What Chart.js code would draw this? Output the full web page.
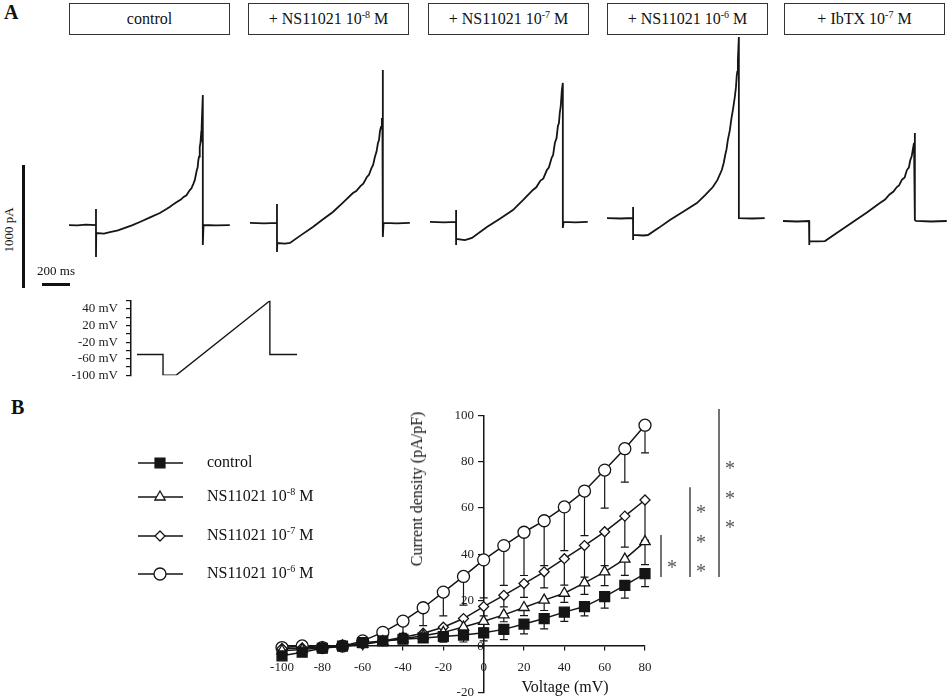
<!DOCTYPE html>
<html>
<head>
<meta charset="utf-8">
<script src="https://cdn.jsdelivr.net/npm/chart.js@4.4.1/dist/chart.umd.min.js"></script>
<style>
    body { margin: 0; background: #fff; width: 948px; height: 697px; position: relative; overflow: hidden;
           font-family: 'Liberation Serif', 'Times New Roman', serif; color: #111; }
    canvas { position: absolute; }
    .txt { position: absolute; white-space: nowrap; }
    .box { position: absolute; top: 3px; height: 32px; box-sizing: border-box; border: 1.5px solid #333;
           text-align: center; line-height: 30px; font-size: 16px; }
    sup { font-size: 10px; vertical-align: 6px; line-height: 0; }
    .bar { position: absolute; background: #111; }
</style>
</head>
<body>
<div class="txt" style="left:4px;top:1px;font-size:20px;font-weight:bold;">A</div>
<div class="txt" style="left:11px;top:396px;font-size:20px;font-weight:bold;">B</div>

<div class="box" style="left:69px;width:161px;">control</div>
<div class="box" style="left:248px;width:161px;">+ NS11021 10<sup>-8</sup> M</div>
<div class="box" style="left:428px;width:161px;">+ NS11021 10<sup>-7</sup> M</div>
<div class="box" style="left:607px;width:161px;">+ NS11021 10<sup>-6</sup> M</div>
<div class="box" style="left:784px;width:161px;">+ IbTX 10<sup>-7</sup> M</div>

<canvas id="trace0" width="165" height="230" style="left:69px;top:36px;"></canvas>
<canvas id="trace1" width="165" height="230" style="left:250px;top:36px;"></canvas>
<canvas id="trace2" width="165" height="230" style="left:430px;top:36px;"></canvas>
<canvas id="trace3" width="165" height="230" style="left:607px;top:36px;"></canvas>
<canvas id="trace4" width="165" height="230" style="left:783px;top:36px;"></canvas>

<div id="vbar" class="bar" style="left:22px;top:165px;width:3px;"></div>
<div id="hbar" class="bar" style="left:42px;top:283px;height:3px;"></div>
<div class="txt" style="left:9px;top:230px;font-size:13px;transform:translate(-50%,-50%) rotate(-90deg);">1000 pA</div>
<div class="txt" style="left:56px;top:271px;font-size:13px;transform:translate(-50%,-50%);">200 ms</div>

<canvas id="protocol" width="300" height="106" style="left:0px;top:285px;"></canvas>

<canvas id="iv" width="630" height="306" style="left:120px;top:400px;"></canvas>
<div class="txt" style="left:207px;top:453px;font-size:16px;">control</div>
<div class="txt" style="left:207px;top:487px;font-size:16px;">NS11021 10<sup>-8</sup> M</div>
<div class="txt" style="left:207px;top:526px;font-size:16px;">NS11021 10<sup>-7</sup> M</div>
<div class="txt" style="left:207px;top:564px;font-size:16px;">NS11021 10<sup>-6</sup> M</div>
<div class="txt" style="left:565px;top:687px;font-size:16px;transform:translate(-50%,-50%);">Voltage (mV)</div>
<div class="txt" style="left:417px;top:489px;font-size:16px;transform:translate(-50%,-50%) rotate(-90deg);">Current density (pA/pF)</div>

<script>
// ---- Panel A: ramp current traces, [time ms, current pA] ----
const traceControl = [[0,33],[60,30],[120,36],[193,33],[193,163],[193,-227],[195,-32],[250,-36],[293,-24],[350,-10],[400,10],[450,30],[507,58],[580,95],[650,131],[700,165],[720,180],[750,205],[771,220],[800,240],[820,262],[840,275],[864,318],[875,330],[890,370],[900,400],[914,480],[920,500],[925,560],[930,590],[935,667],[940,700],[944,760],[947,740],[950,830],[957,1090],[957,-129],[962,33],[1050,30],[1150,33]];
const traceNs8 = [[0,50],[100,46],[193,50],[193,204],[193,-186],[195,-113],[250,-118],[286,-113],[370,-45],[450,17],[520,78],[593,139],[665,215],[736,293],[760,310],[790,350],[810,370],[836,424],[850,440],[870,500],[880,520],[893,586],[905,630],[915,700],[922,720],[930,800],[937,830],[943,903],[947,880],[950,1293],[950,-64],[955,50],[1050,46],[1143,50]];
const traceNs7 = [[0,58],[100,54],[186,58],[186,155],[186,-129],[188,-80],[250,-90],[300,-72],[407,17],[500,85],[593,155],[665,235],[736,318],[760,340],[790,395],[810,410],[836,480],[850,500],[870,580],[880,600],[893,700],[905,740],[915,840],[922,860],[928,944],[935,1000],[943,1131],[950,1188],[950,9],[955,58],[1040,54],[1128,58]];
const traceNs6 = [[0,90],[100,86],[186,90],[186,180],[186,-89],[188,-48],[260,-52],[293,-48],[370,10],[450,74],[550,145],[643,212],[700,275],[757,342],[790,400],[821,480],[835,540],[845,600],[855,650],[864,724],[878,800],[890,900],[902,980],[914,1074],[922,1150],[928,1250],[932,1280],[936,1375],[943,1562],[943,90],[1040,86],[1128,90]];
const traceIbtx = [[0,66],[100,62],[186,66],[186,-129],[190,-97],[250,-100],[300,-97],[400,-20],[500,58],[600,135],[693,212],[730,240],[760,280],[790,305],[814,342],[830,355],[850,400],[870,420],[886,480],[900,500],[910,560],[920,590],[928,643],[937,700],[943,781],[943,74],[950,66],[1060,62],[1171,66]];
const traceTimeMax = 1180;
const traceCurrentMin = -300;
const traceCurrentMax = 1570;

// voltage protocol: time ms vs level on the protocol axis (tick index)
const protocolTicks = ['-100 mV', '', '-60 mV', '', '-20 mV', '', '20 mV', '', '40 mV', ''];
const protocolSteps = [[0,2.5],[186,2.5],[186,0],[279,0],[950,9],[950,2.5],[1144,2.5]];

// ---- Panel B: I-V relation ----
const voltages = [-100,-90,-80,-70,-60,-50,-40,-30,-20,-10,0,10,20,30,40,50,60,70,80];
const controlMean = [-4.2,-2.6,-0.9,0,1.5,2.3,3.0,3.6,4.2,4.8,5.8,7.3,9.6,12,14.8,17.2,21.5,26.4,31.5];
const controlErr  = [0,0,0,0,0,1,1.5,2,2.5,3,3.5,4.5,4.3,4.5,4,4,5,5.5,5.6];
const ns8Mean = [-2,-1.5,-0.7,0,0.8,2,3.2,4.5,6,8.3,10.8,13.6,16.8,20,23,27.5,32.3,37.8,45.4];
const ns8Err  = [0,0,0,0,0,1,1.5,2,2.5,3,3,3,3.5,4.5,4,5,6,7,10];
const ns7Mean = [-1,-0.8,-0.5,0,0.8,2.3,3.9,5.6,8.2,12,17.2,22.1,27.2,32.3,38,43.7,49.7,56.5,63.5];
const ns7Err  = [0,0,0,0,0,1,1.5,2,3,4,4,5,6,7,11.5,13.7,14.7,13.5,17.5];
const ns6Mean = [-0.6,0.1,-0.6,0,2.3,6,10.9,16.7,23.5,30.3,37.5,43.7,49.5,54.5,60.5,67.4,76.5,85.8,96];
const ns6Err  = [0,0,0,0,0,0,5.3,7.8,10.3,12.5,16.5,17.3,18.8,19.5,19,19.4,16.5,14.5,12];

// significance brackets: [from, to] in pA/pF, star levels
const brackets = [
    { from: 30, to: 48.3, stars: [36] },
    { from: 30, to: 69, stars: [59.5, 46.6, 34] },
    { from: 30, to: 103, stars: [78.9, 66, 53.4] }
];

const serif = "'Liberation Serif', 'Times New Roman', serif";
Chart.defaults.font.family = serif;
Chart.defaults.color = '#222';
Chart.defaults.animation = false;

const traceCharts = [traceControl, traceNs8, traceNs7, traceNs6, traceIbtx].map((tr, i) => new Chart(document.getElementById('trace' + i), {
    type: 'line',
    data: {
        datasets: [{
            data: tr.map(p => ({ x: p[0], y: p[1] })),
            borderColor: '#151515',
            borderWidth: 1.8,
            pointRadius: 0,
            tension: 0
        }]
    },
    options: {
        responsive: false,
        layout: { padding: 0 },
        scales: {
            x: { type: 'linear', display: false, min: 0, max: traceTimeMax },
            y: { type: 'linear', display: false, min: traceCurrentMin, max: traceCurrentMax }
        },
        plugins: { legend: { display: false }, tooltip: { enabled: false } }
    }
}));

// scale bars from the trace scales
const ts = traceCharts[0].scales;
document.getElementById('vbar').style.height = Math.round(ts.y.getPixelForValue(0) - ts.y.getPixelForValue(1000)) + 'px';
document.getElementById('hbar').style.width = Math.round(ts.x.getPixelForValue(200) - ts.x.getPixelForValue(0)) + 'px';

new Chart(document.getElementById('protocol'), {
    type: 'line',
    data: {
        datasets: [{
            data: protocolSteps.map(p => ({ x: p[0], y: p[1] })),
            borderColor: '#151515',
            borderWidth: 1.4,
            pointRadius: 0,
            tension: 0
        }]
    },
    options: {
        responsive: false,
        layout: { padding: { top: 0, bottom: 0, right: 3, left: 0 } },
        scales: {
            x: { type: 'linear', display: false, min: -43, max: 1144 },
            y: {
                type: 'linear', min: 0, max: 9,
                afterFit: s => { s.width = 131; },
                ticks: { stepSize: 1, autoSkip: false, padding: 8, font: { size: 13 }, color: '#222',
                         callback: v => protocolTicks[v] },
                grid: { drawOnChartArea: false, tickLength: 5, color: '#151515', lineWidth: 1.2 },
                border: { color: '#151515', width: 1.5 }
            }
        },
        plugins: { legend: { display: false }, tooltip: { enabled: false } }
    }
});

const series = [
    { mean: controlMean, err: controlErr, style: 'rect', radius: 7, fill: '#151515' },
    { mean: ns8Mean, err: ns8Err, style: 'triangle', radius: 6, fill: '#fff' },
    { mean: ns7Mean, err: ns7Err, style: 'rectRot', radius: 5, fill: '#fff' },
    { mean: ns6Mean, err: ns6Err, style: 'circle', radius: 6, fill: '#fff' }
];
const legendRows = [63, 97, 136, 174];

const errorBars = {
    id: 'errorBars',
    beforeDatasetsDraw(chart) {
        const { ctx, scales: { x, y } } = chart;
        ctx.save();
        ctx.strokeStyle = '#151515';
        ctx.lineWidth = 1.2;
        series.forEach(s => {
            s.mean.forEach((m, i) => {
                if (!s.err[i]) return;
                const px = x.getPixelForValue(voltages[i]);
                const y1 = y.getPixelForValue(m);
                const y2 = y.getPixelForValue(m - s.err[i]);
                ctx.beginPath();
                ctx.moveTo(px, y1); ctx.lineTo(px, y2);
                ctx.moveTo(px - 4, y2); ctx.lineTo(px + 4, y2);
                ctx.stroke();
            });
        });
        ctx.restore();
    }
};

const extras = {
    id: 'extras',
    afterDraw(chart) {
        const { ctx, chartArea, scales: { y } } = chart;
        ctx.save();
        // legend
        series.forEach((s, i) => {
            const ly = legendRows[i];
            ctx.strokeStyle = '#151515';
            ctx.lineWidth = 1.4;
            ctx.beginPath(); ctx.moveTo(18, ly); ctx.lineTo(63, ly); ctx.stroke();
            ctx.fillStyle = s.fill;
            ctx.lineWidth = 1.3;
            Chart.helpers.drawPoint(ctx, { pointStyle: s.style, radius: s.radius, rotation: 0, borderWidth: 1.3 }, 40, ly);
        });
        // significance brackets
        ctx.strokeStyle = '#151515';
        ctx.lineWidth = 1.2;
        ctx.fillStyle = '#555';
        ctx.font = '20px ' + serif;
        ctx.textAlign = 'center';
        ctx.textBaseline = 'middle';
        brackets.forEach((b, i) => {
            const bx = chartArea.right + 16 + i * 29;
            ctx.beginPath();
            ctx.moveTo(bx, y.getPixelForValue(b.to));
            ctx.lineTo(bx, y.getPixelForValue(b.from));
            ctx.stroke();
            b.stars.forEach(v => ctx.fillText('*', bx + 11, y.getPixelForValue(v) + 5));
        });
        ctx.restore();
    }
};

new Chart(document.getElementById('iv'), {
    type: 'line',
    data: {
        datasets: series.map(s => ({
            data: voltages.map((v, i) => ({ x: v, y: s.mean[i] })),
            borderColor: '#151515',
            borderWidth: 1.5,
            pointStyle: s.style,
            pointRadius: s.radius,
            pointBackgroundColor: s.fill,
            pointBorderColor: '#151515',
            pointBorderWidth: 1.3,
            tension: 0,
            clip: false
        }))
    },
    options: {
        responsive: false,
        layout: { padding: { left: 162, right: 105, top: 16, bottom: 0 } },
        scales: {
            x: {
                type: 'linear', position: { y: 0 }, min: -100, max: 80,
                ticks: { stepSize: 20, font: { size: 13, lineHeight: 2.05 }, color: '#222', padding: 4 },
                grid: { drawOnChartArea: false, tickLength: 4, color: '#151515', lineWidth: 1.2 },
                border: { color: '#151515', width: 1.5 }
            },
            y: {
                type: 'linear', position: { x: 0 }, min: -20, max: 100,
                ticks: { stepSize: 20, font: { size: 13 }, color: '#222', padding: 6,
                         callback: v => v === 0 ? '0' : v + '   ' },
                grid: { drawOnChartArea: false, tickLength: 5, color: '#151515', lineWidth: 1.2 },
                border: { color: '#151515', width: 1.5 }
            }
        },
        plugins: { legend: { display: false }, tooltip: { enabled: false } }
    },
    plugins: [errorBars, extras]
});
</script>
</body>
</html>
